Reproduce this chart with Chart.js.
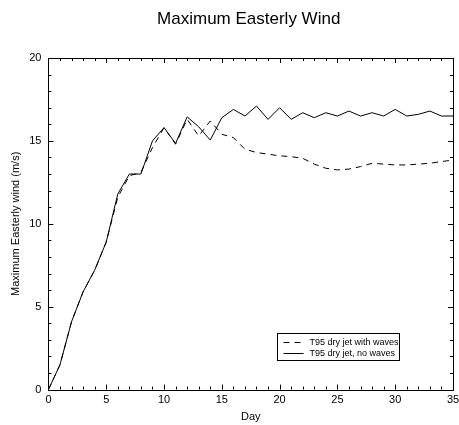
<!DOCTYPE html>
<html>
<head>
<meta charset="utf-8">
<script src="https://cdn.jsdelivr.net/npm/chart.js@4"></script>
<style>
  body { margin: 0; background: #fff; }
  canvas { display: block; }
</style>
</head>
<body>
<canvas id="wind" width="459" height="425"></canvas>
<script>
// day number on the x axis
const days = [0, 1, 2, 3, 4, 5, 6, 7, 8, 9, 10, 11, 12, 13, 14, 15, 16, 17,
  18, 19, 20, 21, 22, 23, 24, 25, 26, 27, 28, 29, 30, 31, 32, 33, 34, 35];

// T95 dry jet with waves (dashed)
const withWaves = [0, 1.5, 4.1, 5.9, 7.2, 8.9, 11.6, 12.9, 13.1, 14.6, 15.8, 14.8,
  16.3, 15.3, 16.2, 15.4, 15.2, 14.5, 14.3, 14.2, 14.1, 14.05, 13.95, 13.6,
  13.35, 13.25, 13.3, 13.45, 13.65, 13.6, 13.55, 13.55, 13.6, 13.65, 13.75, 13.85];

// T95 dry jet, no waves (solid)
const noWaves = [0, 1.5, 4.1, 5.9, 7.2, 8.9, 11.8, 13.0, 13.0, 15.0, 15.8, 14.85,
  16.45, 15.85, 15.05, 16.4, 16.9, 16.5, 17.1, 16.3, 17.0, 16.3, 16.7, 16.4,
  16.7, 16.5, 16.8, 16.5, 16.7, 16.5, 16.9, 16.5, 16.6, 16.8, 16.5, 16.5];

const xTicks = [0, 5, 10, 15, 20, 25, 30, 35];
const yTicks = [0, 5, 10, 15, 20];

const chartTitle = "Maximum Easterly Wind";

const FONT = "'Liberation Sans', Arial, Helvetica, sans-serif";

const toPoints = (vals) => days.map((d, i) => ({ x: d, y: vals[i] }));

//title over the plot, inward ticks on all four sides, frame and legend box
const framePlugin = {
  id: "frame",
  afterDraw(chart) {
    const ctx = chart.ctx;
    const area = chart.chartArea;
    const xs = chart.scales.x;
    const ys = chart.scales.y;

    ctx.save();
    ctx.fillStyle = "#000";
    ctx.font = "17px " + FONT;
    ctx.textAlign = "center";
    ctx.textBaseline = "middle";
    ctx.fillText(chartTitle, (area.left + area.right) / 2 - 2, 19);
    ctx.textAlign = "left";

    ctx.strokeStyle = "#000";
    ctx.lineWidth = 1;
    ctx.strokeRect(Math.round(area.left) + 0.5, Math.round(area.top) + 0.5,
      Math.round(area.right - area.left), Math.round(area.bottom - area.top));

    ctx.beginPath();
    for (let v = xs.min; v <= xs.max; v++) {
      const px = Math.round(xs.getPixelForValue(v)) + 0.5;
      const len = v % 5 === 0 ? 5 : 3;
      ctx.moveTo(px, area.bottom);
      ctx.lineTo(px, area.bottom - len);
      ctx.moveTo(px, area.top);
      ctx.lineTo(px, area.top + len);
    }
    for (let v = ys.min; v <= ys.max; v++) {
      const py = Math.round(ys.getPixelForValue(v)) + 0.5;
      const len = v % 5 === 0 ? 5 : 3;
      ctx.moveTo(area.left, py);
      ctx.lineTo(area.left + len, py);
      ctx.moveTo(area.right, py);
      ctx.lineTo(area.right - len, py);
    }
    ctx.stroke();

    //legend box, lower right inside the plot
    const bx = Math.round(area.right - 176) + 0.5;
    const by = Math.round(area.bottom - 57) + 0.5;
    const bw = 122;
    const bh = 27;
    ctx.fillStyle = "#fff";
    ctx.fillRect(bx, by, bw, bh);
    ctx.strokeRect(bx, by, bw, bh);

    ctx.font = "9px " + FONT;
    ctx.textBaseline = "middle";
    ctx.fillStyle = "#000";
    chart.data.datasets.forEach((ds, i) => {
      const ly = Math.round(by + 8 + i * 11) + 0.5;
      ctx.beginPath();
      ctx.setLineDash(ds.borderDash || []);
      ctx.moveTo(bx + 6, ly);
      ctx.lineTo(bx + 26, ly);
      ctx.stroke();
      ctx.setLineDash([]);
      ctx.fillText(ds.label, bx + 32, ly);
    });
    ctx.restore();
  }
};

const chart = new Chart(document.getElementById("wind").getContext("2d"), {
  type: "line",
  data: {
    datasets: [
      {
        label: "T95 dry jet with waves",
        data: toPoints(withWaves),
        borderColor: "#000",
        borderWidth: 1,
        borderDash: [6, 5],
        pointRadius: 0,
        tension: 0,
        fill: false,
      },
      {
        label: "T95 dry jet, no waves",
        data: toPoints(noWaves),
        borderColor: "#000",
        borderWidth: 1,
        pointRadius: 0,
        tension: 0,
        fill: false,
      },
    ],
  },
  options: {
    responsive: false,
    animation: false,
    layout: { padding: { left: 9, right: 6, top: 58, bottom: 1 } },
    plugins: {
      legend: { display: false },
      tooltip: { enabled: false },
      title: { display: false },
    },
    scales: {
      x: {
        type: "linear",
        min: 0,
        max: 35,
        afterBuildTicks: (axis) => { axis.ticks = xTicks.map((v) => ({ value: v })); },
        //let the last tick label hang past the plot edge
        afterFit: (axis) => { axis.paddingRight = 0; },
        grid: { display: false, drawTicks: false },
        border: { display: false },
        ticks: { color: "#000", padding: 4, maxRotation: 0, font: { family: FONT, size: 11 } },
        title: {
          display: true,
          text: "Day",
          color: "#000",
          padding: { top: 0, bottom: 0 },
          font: { family: FONT, size: 11 },
        },
      },
      y: {
        min: 0,
        max: 20,
        afterBuildTicks: (axis) => { axis.ticks = yTicks.map((v) => ({ value: v })); },
        grid: { display: false, drawTicks: false },
        border: { display: false },
        ticks: { color: "#000", padding: 7, font: { family: FONT, size: 11 } },
        title: {
          display: true,
          text: "Maximum Easterly wind (m/s)",
          color: "#000",
          padding: { top: 0, bottom: 0 },
          font: { family: FONT, size: 11 },
        },
      },
    },
  },
  plugins: [framePlugin],
});
</script>
</body>
</html>
